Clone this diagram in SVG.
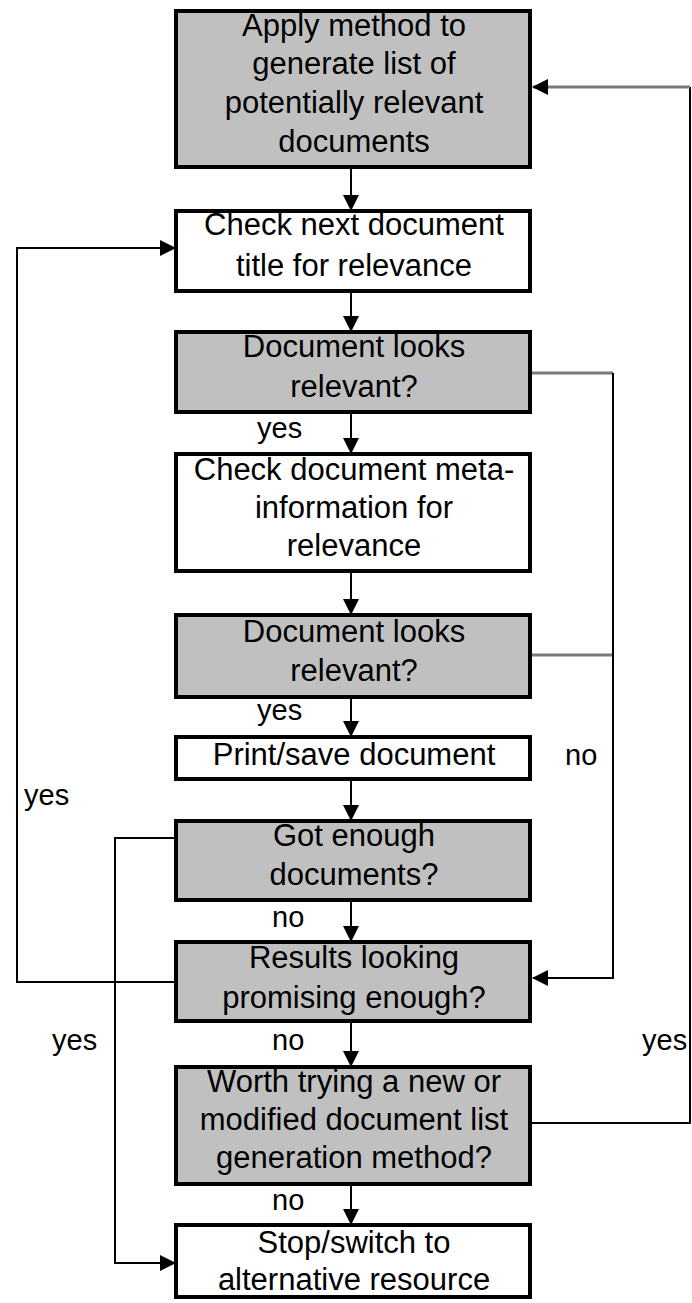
<svg xmlns="http://www.w3.org/2000/svg" width="692" height="1303" viewBox="0 0 692 1303">
<style>
.box{stroke:#000;stroke-width:4}
.g{fill:#c0c0c0}
.w{fill:#fff}
text{font-family:"Liberation Sans",Arial,sans-serif;font-size:31px;fill:#000;text-anchor:middle}
.lbl{font-size:29px;text-anchor:start}
.c{fill:none;stroke:#000;stroke-width:2}
.cg{fill:none;stroke:#7a7a7a;stroke-width:3}
</style>
<defs>
<marker id="ah" markerUnits="userSpaceOnUse" markerWidth="16" markerHeight="16" viewBox="0 0 16 16" refX="15" refY="8" orient="auto">
<path d="M0,0 L16,8 L0,16 Z" fill="#000"/>
</marker>
</defs>
<rect width="692" height="1303" fill="#fff"/>
<g id="connectors">
<path class="c" d="M351,167 V210" marker-end="url(#ah)"/>
<path class="c" d="M351,291 V331" marker-end="url(#ah)"/>
<path class="c" d="M351,412 V453" marker-end="url(#ah)"/>
<path class="c" d="M351,571 V614" marker-end="url(#ah)"/>
<path class="c" d="M351,697 V736" marker-end="url(#ah)"/>
<path class="c" d="M351,779 V820" marker-end="url(#ah)"/>
<path class="c" d="M351,900 V941" marker-end="url(#ah)"/>
<path class="c" d="M351,1021 V1066" marker-end="url(#ah)"/>
<path class="c" d="M351,1184 V1224" marker-end="url(#ah)"/>
<path class="cg" d="M532,373 H613"/>
<path class="cg" d="M532,655 H613"/>
<path class="c" d="M613,373 V978 H533" marker-end="url(#ah)"/>
<path class="c" d="M174,982 H17 V248 H175" marker-end="url(#ah)"/>
<path class="c" d="M174,838 H115 V1263 H175" marker-end="url(#ah)"/>
<path class="c" d="M532,1123 H690 V87"/>
<path class="cg" d="M690,87 H533" marker-end="url(#ah)"/>
<text class="lbl" x="257" y="438">yes</text>
<text class="lbl" x="257" y="720">yes</text>
<text class="lbl" x="565" y="765">no</text>
<text class="lbl" x="24" y="805">yes</text>
<text class="lbl" x="272" y="927">no</text>
<text class="lbl" x="52" y="1050">yes</text>
<text class="lbl" x="272" y="1050">no</text>
<text class="lbl" x="642" y="1050">yes</text>
<text class="lbl" x="272" y="1210">no</text>
</g>
<g id="n1"><rect class="box g" x="176" y="11" width="354" height="156"/>
<text x="354" y="36">Apply method to</text><text x="354" y="74">generate list of</text><text x="354" y="113">potentially relevant</text><text x="354" y="152">documents</text></g>
<g id="n2"><rect class="box w" x="176" y="211" width="354" height="80"/>
<text x="354" y="235">Check next document</text><text x="354" y="276">title for relevance</text></g>
<g id="n3"><rect class="box g" x="176" y="332" width="354" height="80"/>
<text x="354" y="357">Document looks</text><text x="354" y="397">relevant?</text></g>
<g id="n4"><rect class="box w" x="176" y="454" width="354" height="117"/>
<text x="354" y="480">Check document meta-</text><text x="354" y="518">information for</text><text x="354" y="556">relevance</text></g>
<g id="n5"><rect class="box g" x="176" y="615" width="354" height="82"/>
<text x="354" y="642">Document looks</text><text x="354" y="681">relevant?</text></g>
<g id="n6"><rect class="box w" x="176" y="737" width="354" height="42"/>
<text x="354" y="765">Print/save document</text></g>
<g id="n7"><rect class="box g" x="176" y="821" width="354" height="79"/>
<text x="354" y="846">Got enough</text><text x="354" y="885">documents?</text></g>
<g id="n8"><rect class="box g" x="176" y="942" width="354" height="79"/>
<text x="354" y="968">Results looking</text><text x="354" y="1008">promising enough?</text></g>
<g id="n9"><rect class="box g" x="176" y="1067" width="354" height="117"/>
<text x="354" y="1092">Worth trying a new or</text><text x="354" y="1130">modified document list</text><text x="354" y="1168">generation method?</text></g>
<g id="n10"><rect class="box w" x="176" y="1225" width="354" height="72"/>
<text x="354" y="1253">Stop/switch to</text><text x="354" y="1290">alternative resource</text></g>
</svg>
